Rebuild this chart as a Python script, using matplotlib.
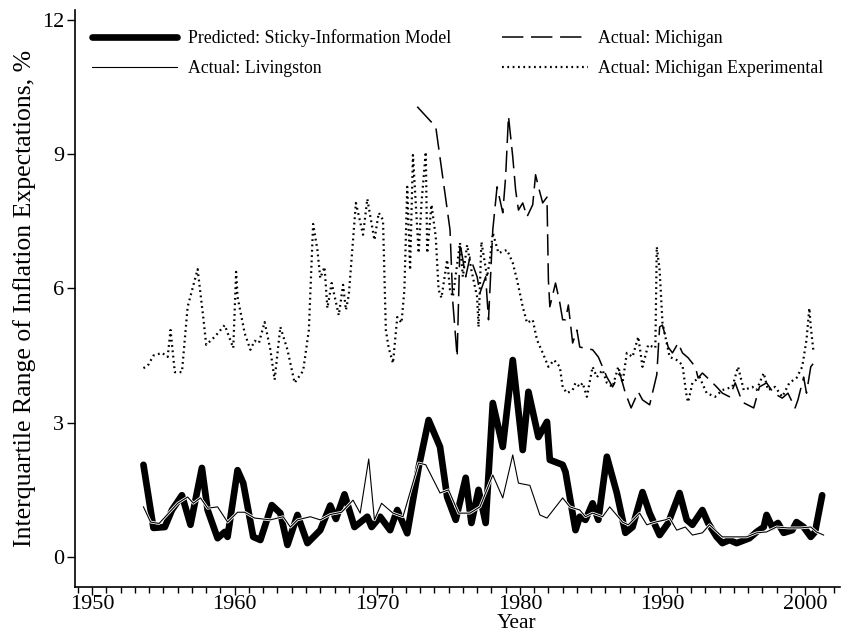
import numpy as np
import matplotlib
matplotlib.use("Agg")
import matplotlib.pyplot as plt
import matplotlib.patheffects as pe
from matplotlib.ticker import MultipleLocator

plt.rcParams['font.family'] = ['Liberation Serif', 'DejaVu Serif']

# ------- data -------
pred_year = [1953.6, 1954.3, 1955.1, 1955.6, 1956.3, 1956.9, 1957.7, 1958.1, 1958.8, 1959.3,
             1959.5, 1960.2, 1960.6, 1961.3, 1961.8, 1962.6, 1963.2, 1963.7, 1964.4, 1965.1,
             1966.0, 1966.7, 1967.1, 1967.7, 1968.4, 1969.3, 1969.6, 1970.2, 1970.9, 1971.4,
             1972.1, 1972.9, 1973.6, 1974.4, 1974.9, 1975.5, 1976.2, 1976.6, 1977.1, 1977.6,
             1978.1, 1978.8, 1979.5, 1980.2, 1980.6, 1981.3, 1981.9, 1982.1, 1983.0, 1983.2,
             1983.9, 1984.2, 1984.6, 1985.1, 1985.5, 1986.1, 1986.8, 1987.4, 1987.9, 1988.6,
             1989.1, 1989.8, 1990.4, 1991.2, 1991.7, 1992.1, 1992.8, 1993.2, 1993.8, 1994.2,
             1994.7, 1995.2, 1996.1, 1996.6, 1997.1, 1997.3, 1997.7, 1998.1, 1998.5, 1999.1,
             1999.4, 1999.9, 2000.4, 2000.7, 2001.2]
pred_val = [2.06, 0.65, 0.67, 1.05, 1.38, 0.72, 1.99, 1.05, 0.42, 0.56,
            0.45, 1.94, 1.65, 0.45, 0.38, 1.16, 0.98, 0.27, 0.94, 0.31,
            0.60, 1.15, 0.85, 1.40, 0.67, 0.90, 0.67, 0.90, 0.60, 1.05,
            0.53, 2.00, 3.06, 2.46, 1.34, 0.83, 1.77, 0.76, 1.50, 0.76,
            3.44, 2.46, 4.40, 2.39, 3.69, 2.68, 3.02, 2.17, 2.06, 1.90,
            0.60, 0.90, 0.83, 1.20, 0.83, 2.24, 1.43, 0.54, 0.67, 1.45,
            0.98, 0.49, 0.76, 1.43, 0.83, 0.72, 1.05, 0.76, 0.45, 0.31,
            0.38, 0.31, 0.42, 0.56, 0.67, 0.94, 0.67, 0.76, 0.54, 0.60,
            0.78, 0.67, 0.45, 0.56, 1.38]

liv_year = [1953.6, 1954.1, 1954.7, 1956.0, 1956.7, 1957.1, 1957.6, 1958.1, 1958.8, 1959.5,
            1960.2, 1960.7, 1961.4, 1962.5, 1963.4, 1963.9, 1964.4, 1965.3, 1966.0, 1966.7,
            1967.5, 1968.3, 1968.8, 1969.4, 1969.8, 1970.3, 1971.1, 1971.8, 1972.9, 1973.4,
            1974.4, 1975.0, 1975.7, 1976.5, 1977.2, 1978.1, 1978.8, 1979.5, 1979.9, 1980.7,
            1981.4, 1981.9, 1983.0, 1983.5, 1984.2, 1984.6, 1985.1, 1985.8, 1986.3, 1987.2,
            1987.6, 1988.4, 1988.9, 1989.5, 1990.2, 1990.5, 1991.0, 1991.6, 1992.1, 1992.8,
            1993.3, 1994.2, 1995.0, 1995.9, 1996.6, 1997.3, 1998.0, 1998.8, 1999.7, 2000.4,
            2000.8, 2001.3]
liv_val = [1.12, 0.78, 0.75, 1.20, 1.34, 1.20, 1.32, 1.09, 1.12, 0.78,
           1.00, 1.00, 0.87, 0.83, 0.90, 0.67, 0.83, 0.90, 0.83, 0.95,
           1.00, 1.27, 0.98, 2.19, 0.83, 1.20, 0.98, 0.90, 2.10, 2.06,
           1.43, 1.50, 0.98, 0.98, 1.12, 1.83, 1.32, 2.28, 1.65, 1.60,
           0.94, 0.87, 1.32, 1.12, 1.05, 0.90, 0.98, 0.90, 1.12, 0.78,
           0.72, 0.98, 0.72, 0.78, 0.83, 0.87, 0.60, 0.67, 0.49, 0.54,
           0.72, 0.45, 0.45, 0.45, 0.54, 0.56, 0.67, 0.65, 0.65, 0.67,
           0.56, 0.49]

mich_year = [1972.8, 1974.1, 1975.1, 1975.3, 1975.6, 1975.8, 1976.2, 1976.5, 1977.0, 1977.2,
             1977.6, 1977.8, 1978.1, 1978.4, 1978.8, 1979.0, 1979.2, 1979.5, 1979.7, 1979.9,
             1980.2, 1980.5, 1980.9, 1981.1, 1981.3, 1981.6, 1981.9, 1982.0, 1982.1, 1982.5,
             1982.8, 1983.0, 1983.2, 1983.4, 1983.7, 1984.0, 1984.2, 1985.1, 1985.5, 1986.1,
             1986.5, 1987.0, 1987.4, 1987.8, 1988.3, 1988.6, 1989.1, 1989.6, 1989.8, 1990.0,
             1990.4, 1990.7, 1991.1, 1991.4, 1991.8, 1992.3, 1992.5, 1992.8, 1993.3, 1993.8,
             1994.2, 1994.7, 1995.1, 1995.6, 1996.4, 1996.8, 1997.3, 1997.8, 1998.4, 1998.8,
             1999.3, 1999.5, 1999.9, 2000.1, 2000.4, 2000.6]
mich_val = [10.06, 9.61, 7.31, 5.68, 4.47, 7.02, 6.26, 6.70, 6.26, 5.90,
            6.26, 5.30, 7.31, 8.27, 7.69, 8.49, 9.85, 8.94, 8.20, 7.75,
            7.91, 7.60, 7.87, 8.54, 8.27, 7.91, 8.04, 6.19, 5.59, 6.12,
            5.68, 5.30, 5.30, 5.63, 4.78, 5.07, 4.69, 4.63, 4.47, 4.02,
            3.80, 4.11, 3.66, 3.33, 3.69, 3.51, 3.40, 4.07, 5.14, 5.18,
            4.69, 4.56, 4.78, 4.56, 4.45, 4.25, 4.00, 4.11, 3.96, 3.80,
            3.66, 3.58, 3.89, 3.46, 3.33, 3.80, 3.89, 3.66, 3.55, 3.66,
            3.33, 3.51, 4.02, 3.66, 4.25, 4.33]

exp_year = [1953.6, 1953.9, 1954.3, 1954.9, 1955.3, 1955.5, 1955.8, 1956.3, 1956.7, 1957.4,
            1957.8, 1958.0, 1958.6, 1959.3, 1959.9, 1960.1, 1960.2, 1960.7, 1961.1, 1961.4,
            1961.7, 1962.1, 1962.5, 1962.8, 1963.2, 1963.7, 1964.2, 1964.8, 1965.2, 1965.5,
            1965.8, 1966.0, 1966.3, 1966.5, 1966.8, 1967.3, 1967.6, 1967.8, 1968.0, 1968.5,
            1969.0, 1969.3, 1969.8, 1970.1, 1970.4, 1970.6, 1970.8, 1971.1, 1971.4, 1971.7,
            1971.9, 1972.1, 1972.3, 1972.5, 1972.9, 1973.1, 1973.4, 1973.5, 1973.8, 1974.1,
            1974.3, 1974.5, 1974.9, 1975.1, 1975.3, 1975.8, 1976.0, 1976.3, 1976.6, 1977.0,
            1977.1, 1977.3, 1977.7, 1977.9, 1978.1, 1978.5, 1979.1, 1979.5, 1979.8, 1980.2,
            1980.5, 1980.9, 1981.2, 1981.6, 1982.0, 1982.4, 1982.8, 1983.0, 1983.3, 1983.7,
            1983.9, 1984.2, 1984.4, 1984.7, 1985.1, 1985.4, 1985.8, 1986.1, 1986.5, 1986.9,
            1987.2, 1987.5, 1987.9, 1988.3, 1988.6, 1989.0, 1989.5, 1989.6, 1989.8, 1990.0,
            1990.5, 1991.0, 1991.4, 1991.7, 1991.8, 1992.1, 1992.6, 1993.1, 1993.7, 1994.2,
            1994.9, 1995.3, 1995.7, 1996.3, 1996.6, 1997.1, 1997.4, 1997.9, 1998.4, 1998.9,
            1999.4, 1999.8, 2000.1, 2000.3, 2000.4, 2000.6]
exp_val = [4.22, 4.27, 4.50, 4.56, 4.47, 5.07, 4.13, 4.13, 5.59, 6.43,
           5.34, 4.74, 4.92, 5.18, 4.67, 6.37, 5.81, 5.00, 4.63, 4.83,
           4.78, 5.25, 4.63, 3.96, 5.14, 4.63, 3.89, 4.16, 5.07, 7.44,
           6.86, 6.23, 6.48, 5.56, 6.12, 5.40, 6.08, 5.52, 5.85, 7.91,
           7.20, 8.00, 7.08, 7.69, 7.53, 5.07, 4.67, 4.33, 5.36, 5.23,
           5.97, 8.27, 6.41, 8.98, 6.79, 7.91, 9.05, 6.79, 7.87, 7.15,
           5.97, 5.79, 6.64, 5.97, 5.81, 7.02, 6.26, 6.97, 6.41, 5.81,
           5.14, 7.04, 6.26, 6.64, 7.24, 6.79, 6.86, 6.57, 6.19, 5.59,
           5.23, 5.30, 4.85, 4.56, 4.25, 4.40, 4.25, 3.80, 3.66, 3.73,
           3.89, 3.80, 3.89, 3.58, 4.25, 4.02, 4.18, 3.89, 3.80, 4.25,
           3.89, 4.56, 4.47, 4.92, 4.25, 4.74, 4.67, 6.93, 6.41, 5.23,
           4.47, 4.40, 4.29, 3.58, 3.46, 3.89, 4.02, 3.66, 3.58, 3.73,
           3.80, 4.25, 3.73, 3.80, 3.73, 4.11, 3.73, 3.80, 3.58, 3.89,
           4.00, 4.25, 4.85, 5.56, 5.14, 4.56]

labels = ['Predicted: Sticky-Information Model', 'Actual: Michigan',
          'Actual: Livingston', 'Actual: Michigan Experimental']

# ------- figure -------
fig = plt.figure(figsize=(8.57, 6.34), dpi=100)
ax = fig.add_axes([75/857, 47/634, 765/857, 577/634])

h_exp, = ax.plot(exp_year, exp_val, color='k', lw=1.6, ls=(0, (0.8, 1.6)))
h_mich, = ax.plot(mich_year, mich_val, color='k', lw=1.1, ls=(0, (14, 5)))
h_pred, = ax.plot(pred_year, pred_val, color='k', lw=4.8,
                  solid_joinstyle='round', solid_capstyle='round')
h_liv, = ax.plot(liv_year, liv_val, color='k', lw=0.8,
                 path_effects=[pe.Stroke(linewidth=2.0, foreground='white'), pe.Normal()])

ax.set_xlim(1948.8, 2002.45)
ax.set_ylim(-0.67, 12.22)
ax.set_yticks([0, 3, 6, 9, 12])
ax.set_xticks(range(1950, 2001, 10))
ax.xaxis.set_minor_locator(MultipleLocator(1))
for s in ['top', 'right']:
    ax.spines[s].set_visible(False)
ax.spines['left'].set_linewidth(1.2)
ax.spines['bottom'].set_linewidth(1.2)
ax.tick_params(axis='both', which='major', labelsize=16, length=6, width=1, direction='out')
ax.tick_params(axis='x', which='major', pad=0)
ax.tick_params(axis='y', which='major', pad=2)
ax.tick_params(axis='x', which='minor', length=4, width=1, direction='out')

ax.set_xlabel('Year', fontsize=15.5)
ax.xaxis.set_label_coords((517 - 75) / 765, -0.047)
ax.set_ylabel('Interquartile Range of Inflation Expectations, %', fontsize=18.5, labelpad=4)

ax.legend([h_pred, h_liv, h_mich, h_exp], [labels[0], labels[2], labels[1], labels[3]],
          ncol=2, frameon=False, fontsize=12.8, handlelength=4.8, handletextpad=0.6,
          columnspacing=2.87, labelspacing=0.74, borderpad=0, borderaxespad=0,
          loc='upper left', bbox_to_anchor=(92/857, 1 - 29/634), bbox_transform=fig.transFigure)

fig.savefig('out.png', dpi=100)
